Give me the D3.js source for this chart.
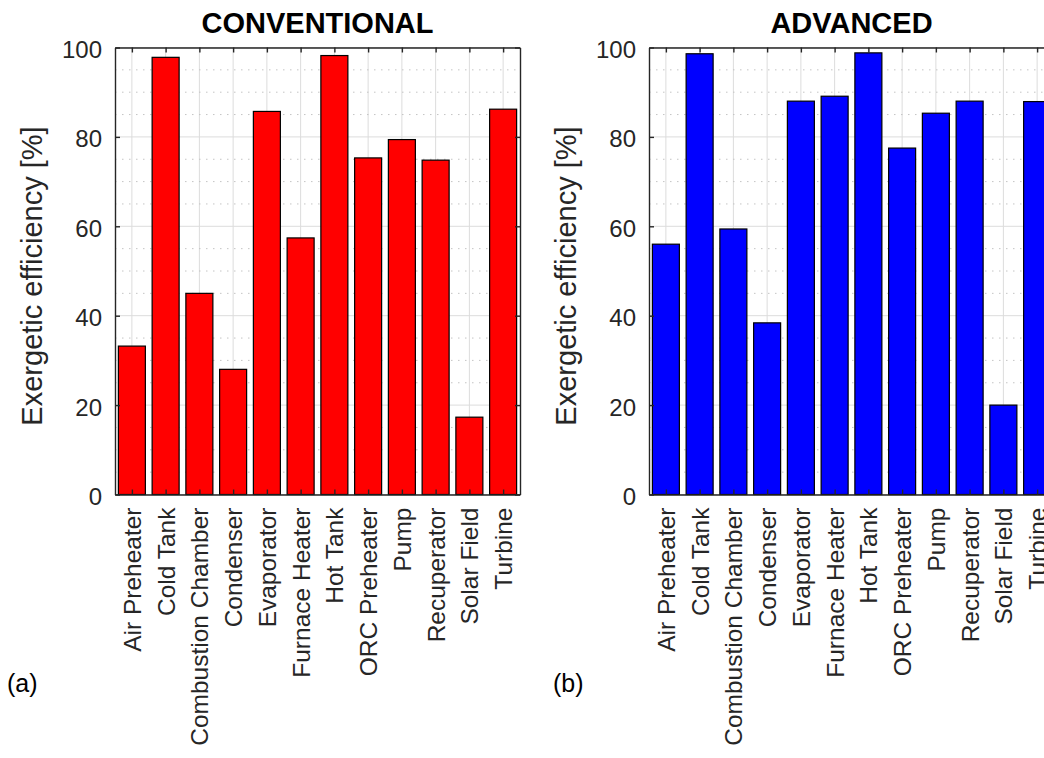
<!DOCTYPE html>
<html>
<head>
<meta charset="utf-8">
<script src="https://cdn.jsdelivr.net/npm/d3@7"></script>
<style>
  body { margin: 0; background: #fff; }
  svg { display: block; font-family: "Liberation Sans", Arial, sans-serif; }
</style>
</head>
<body>
<svg id="chart" width="1044" height="758"></svg>
<script>
let components = ['Air Preheater', 'Cold Tank', 'Combustion Chamber', 'Condenser', 'Evaporator',
  'Furnace Heater', 'Hot Tank', 'ORC Preheater', 'Pump', 'Recuperator', 'Solar Field', 'Turbine'];

let conventionalValues = [33.2, 97.8, 45.0, 28.0, 85.7, 57.4, 98.2, 75.3, 79.4, 74.8, 17.3, 86.2];
let advancedValues = [56.0, 98.6, 59.4, 38.4, 88.0, 89.1, 98.8, 77.5, 85.3, 88.0, 20.0, 87.9];

let yTicks = [0, 20, 40, 60, 80, 100];
let yMinorTicks = d3.range(5, 100, 5).filter(d => d % 20 !== 0);

let svg = d3.select('#chart');

let plotTop = 47.5;
let plotBottom = 494.5;
let plotWidth = 405;
let axisColor = '#262626';

function drawPanel(left, values, color, title, letter, letterX) {
  let g = svg.append('g');

  let x = d3.scalePoint().domain(components).range([left, left + plotWidth]).padding(0.5);
  let step = x.step();
  let y = d3.scaleLinear().domain([0, 100]).range([plotBottom, plotTop]);

  // grid first, bars go over it
  g.selectAll('.vgrid').data(components).enter().append('line')
    .attr('x1', d => x(d)).attr('x2', d => x(d))
    .attr('y1', plotTop).attr('y2', plotBottom)
    .style('stroke', '#dcdcdc').style('stroke-width', 1);

  g.selectAll('.hgrid').data(yTicks).enter().append('line')
    .attr('x1', left).attr('x2', left + plotWidth)
    .attr('y1', d => y(d)).attr('y2', d => y(d))
    .style('stroke', '#dcdcdc').style('stroke-width', 1);

  g.selectAll('.mgrid').data(yMinorTicks).enter().append('line')
    .attr('x1', left).attr('x2', left + plotWidth)
    .attr('y1', d => y(d)).attr('y2', d => y(d))
    .style('stroke', '#c4c4c4').style('stroke-width', 1)
    .style('stroke-dasharray', '1.5,5.5');

  g.selectAll('.bar').data(values).enter().append('rect')
    .attr('x', (d, i) => x(components[i]) - step * 0.4)
    .attr('y', d => y(d))
    .attr('width', step * 0.8)
    .attr('height', d => y(0) - y(d))
    .style('fill', color)
    .style('stroke', '#000')
    .style('stroke-width', 1.2);

  // box with inward ticks on all sides
  let axisBottom = d3.axisBottom(x).tickSizeInner(-5).tickSizeOuter(0).tickFormat('');
  let axisTop = d3.axisTop(x).tickSizeInner(-5).tickSizeOuter(0).tickFormat('');
  let axisLeft = d3.axisLeft(y).tickValues(yTicks).tickSizeInner(-5).tickSizeOuter(0).tickFormat('');
  let axisRight = d3.axisRight(y).tickValues(yTicks).tickSizeInner(-5).tickSizeOuter(0).tickFormat('');

  let axes = [
    [axisBottom, `translate(0,${plotBottom})`],
    [axisTop, `translate(0,${plotTop})`],
    [axisLeft, `translate(${left},0)`],
    [axisRight, `translate(${left + plotWidth},0)`]
  ];
  axes.forEach(a => {
    let ag = g.append('g').attr('transform', a[1]).call(a[0]);
    ag.select('.domain').style('stroke', axisColor).style('stroke-width', 1.4);
    ag.selectAll('.tick line').style('stroke', axisColor).style('stroke-width', 1.4);
  });

  g.selectAll('.ylab').data(yTicks).enter().append('text')
    .attr('x', left - 13)
    .attr('y', d => y(d) + 10.5)
    .attr('text-anchor', 'end')
    .style('font-size', '24px')
    .style('fill', axisColor)
    .text(d => d);

  g.selectAll('.xlab').data(components).enter().append('text')
    .attr('transform', d => `translate(${x(d) + 9},${plotBottom + 13}) rotate(-90)`)
    .attr('text-anchor', 'end')
    .style('font-size', '24.5px')
    .style('fill', axisColor)
    .text(d => d);

  g.append('text')
    .attr('transform', `translate(${left - 73},${(plotTop + plotBottom) / 2 + 5}) rotate(-90)`)
    .attr('text-anchor', 'middle')
    .style('font-size', '29px')
    .style('fill', axisColor)
    .text('Exergetic efficiency [%]');

  g.append('text')
    .attr('x', left + plotWidth / 2)
    .attr('y', 33)
    .attr('text-anchor', 'middle')
    .style('font-size', '29px')
    .style('font-weight', 'bold')
    .style('fill', '#000')
    .text(title);

  g.append('text')
    .attr('x', letterX)
    .attr('y', 692)
    .style('font-size', '25px')
    .style('fill', '#000')
    .text(letter);
}

drawPanel(115, conventionalValues, '#ff0000', 'CONVENTIONAL', '(a)', 7);
drawPanel(649, advancedValues, '#0000ff', 'ADVANCED', '(b)', 553);
</script>
</body>
</html>
